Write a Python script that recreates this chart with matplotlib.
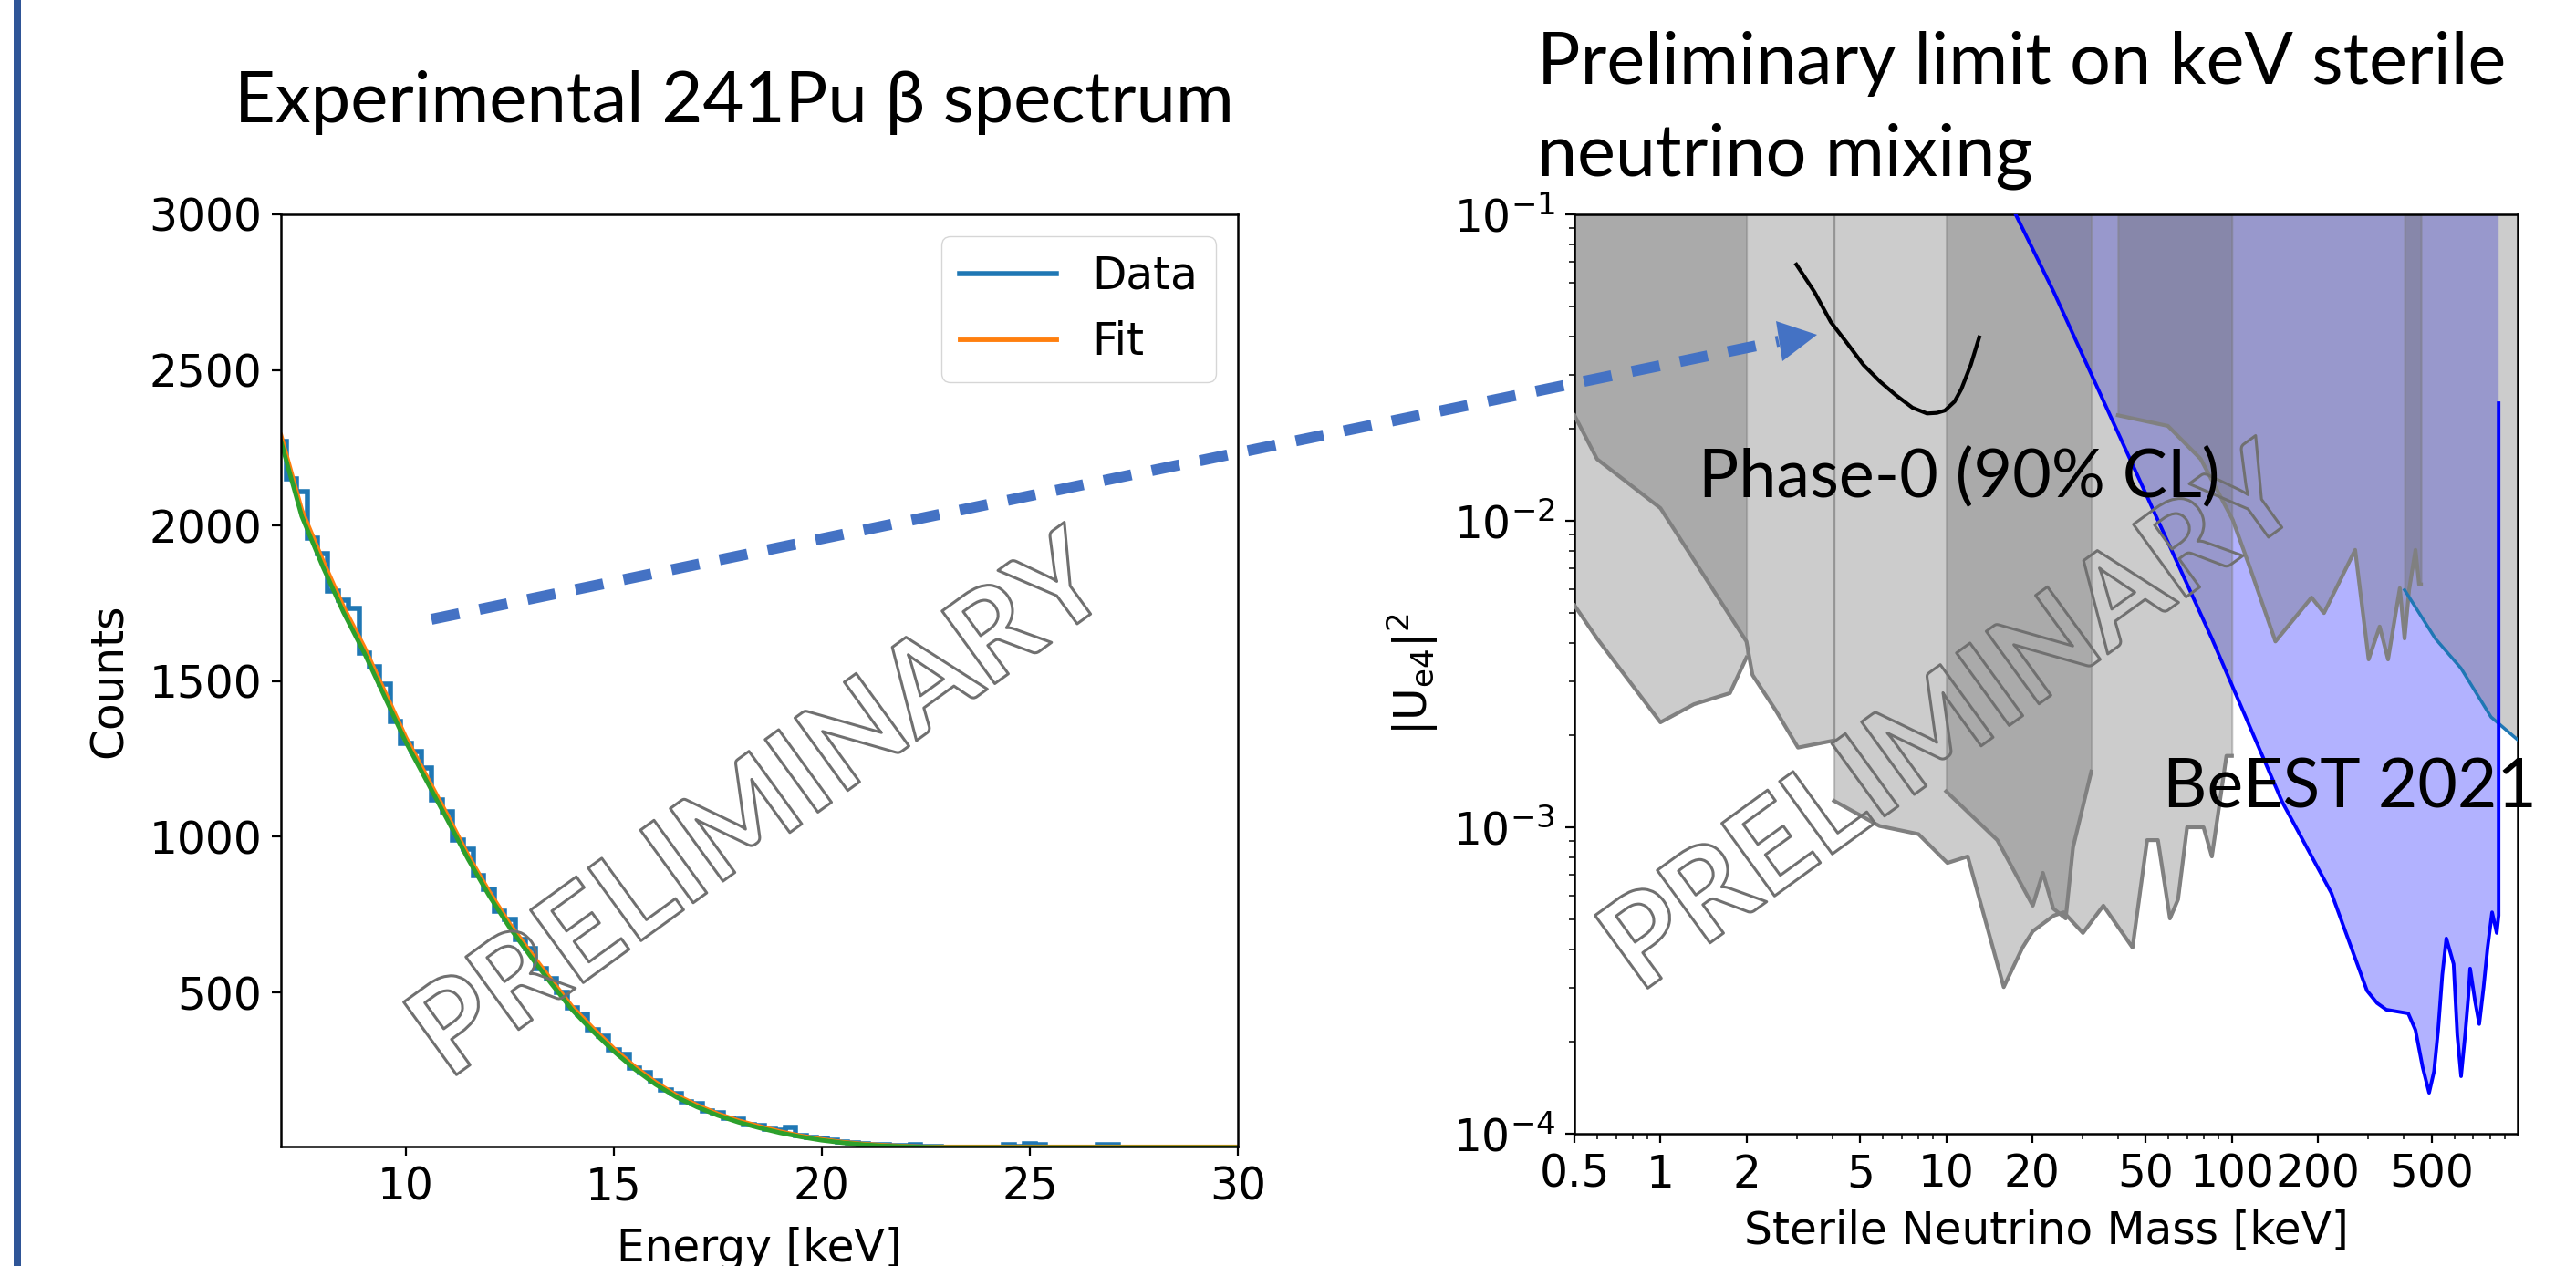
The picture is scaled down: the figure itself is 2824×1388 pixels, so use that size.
"""
Slide figure: measured 241Pu beta spectrum (left) and the preliminary
|U_e4|^2 limit on keV sterile neutrinos (right). Writes out.png.
"""

import numpy as np
import matplotlib
matplotlib.use("Agg")
import matplotlib.pyplot as plt
import matplotlib.patheffects as pe
from matplotlib.lines import Line2D
from matplotlib.patches import Polygon, Rectangle
from matplotlib.ticker import FixedLocator, FixedFormatter, LogLocator, NullFormatter

W, H = 2824, 1388

# ---- left panel: spectrum, 0.25 keV bins centred on 7.0, 7.25, ... keV ----
bin_centre0 = 7.0
bin_w = 0.25
data_counts = [
    2270, 2150, 2110, 1960, 1910, 1790, 1760, 1735, 1590, 1545, 1490, 1370,
    1300, 1275, 1220, 1120, 1080, 990, 960, 875, 830, 760, 735, 670,
    640, 575, 545, 500, 450, 430, 380, 360, 315, 300, 258, 242,
    215, 188, 176, 150, 142, 120, 114, 96, 92, 76, 72, 60,
    58, 68, 40, 34, 30, 26, 20, 18, 14, 12, 10, 9,
    7, 12, 5, 4, 3, 2, 3, 2, 2, 3, 12, 4,
    14, 10, 3, 2, 2, 3, 2, 10, 12, 3, 2, 2,
    2, 3, 2, 2, 2, 3, 2, 2,
]
fit_energy = [7.0 + 0.5 * i for i in range(47)]
fit_counts = [
    2290, 2050, 1890, 1740, 1610, 1465, 1320, 1195, 1070, 940,
    825, 720, 628, 540, 454, 385, 320, 262, 212, 170,
    138, 110, 88, 70, 53, 39, 28, 19, 13, 9,
    6, 4, 4, 4, 4, 4, 4, 4, 4, 4,
    4, 4, 4, 4, 4, 4, 4,
]
model_counts = [
    2270, 2030, 1870, 1722, 1592, 1448, 1305, 1180, 1055, 928,
    812, 708, 616, 528, 444, 375, 311, 254, 205, 164,
    132, 105, 83, 65, 49, 36, 25, 17, 11, 7,
    5, 3, 2, 2, 2, 2, 2, 2, 2, 2,
    2, 2, 2, 2, 2, 2, 2,
]

# ---- right panel: exclusion regions in (mass [keV], |U_e4|^2) ----
p1_mass = [0.5, 0.6, 1.0, 2.0, 2.1, 2.53, 3.03, 4.05]
p1_lower = [0.0221, 0.0159, 0.0110, 4.04e-3, 3.14e-3, 2.41e-3, 1.82e-3, 1.92e-3]

p2_mass = [0.5, 0.6, 1.0, 1.31, 1.75, 2.0]
p2_lower = [5.3e-3, 4.13e-3, 2.2e-3, 2.52e-3, 2.74e-3, 3.58e-3]

p3_mass = [4.05, 5.84, 8.0, 10.1, 11.9, 15.9, 18.5, 20.1, 23.8, 25.8, 30.1,
           35.5, 44.9, 50.5, 55.1, 60.7, 64.8, 69.7, 79.6, 85.1, 95.7, 100]
p3_lower = [1.22e-3, 1.01e-3, 9.5e-4, 7.65e-4, 8.03e-4, 3.01e-4, 4.05e-4, 4.58e-4,
            5.15e-4, 5.28e-4, 4.52e-4, 5.55e-4, 4.05e-4, 9.08e-4, 9.08e-4, 5.04e-4,
            5.82e-4, 1.0e-3, 1.0e-3, 8.03e-4, 1.71e-3, 1.71e-3]

p4_mass = [10.0, 15.1, 20.1, 21.8, 23.7, 26.2, 27.8, 32.2]
p4_lower = [1.31e-3, 9.08e-4, 5.55e-4, 7.1e-4, 5.43e-4, 5.04e-4, 8.6e-4, 1.52e-3]

p5_mass = [39.9, 59.7, 77.8, 100.7, 115, 142, 190, 210, 270, 301, 329, 352,
           387, 402, 417, 439, 452, 459]
p5_lower = [0.0221, 0.0204, 0.0159, 0.01007, 7.14e-3, 4.04e-3, 5.62e-3, 5.0e-3,
            8.04e-3, 3.53e-3, 4.52e-3, 3.53e-3, 6.03e-3, 4.13e-3, 5.95e-3,
            8.04e-3, 6.2e-3, 6.2e-3]

p6_mass = [402, 515, 634, 807, 1000]
p6_lower = [5.95e-3, 4.13e-3, 3.3e-3, 2.29e-3, 1.93e-3]

beest_mass = [17.5, 23.8, 85.1, 150, 223, 297, 322, 347, 414, 439, 465, 490, 510,
              527, 545, 563, 597, 615, 634, 655, 672, 682, 710, 734, 760, 785, 814,
              845, 858, 858]
beest_limit = [0.1, 0.0558, 4.13e-3, 1.21e-3, 6.1e-4, 2.93e-4, 2.67e-4, 2.54e-4,
               2.47e-4, 2.18e-4, 1.65e-4, 1.36e-4, 1.6e-4, 2.18e-4, 3.3e-4, 4.34e-4,
               3.58e-4, 2.1e-4, 1.54e-4, 2.1e-4, 2.79e-4, 3.46e-4, 2.7e-4, 2.28e-4,
               3.0e-4, 4.05e-4, 5.28e-4, 4.52e-4, 5.15e-4, 0.0242]

phase0_mass = [2.99, 3.46, 3.95, 4.51, 5.13, 5.86, 6.67, 7.62, 8.57, 9.28, 9.90,
               10.7, 11.3, 12.2, 13.05]
phase0_limit = [0.0686, 0.0558, 0.0445, 0.0379, 0.0323, 0.0285, 0.0257, 0.0234,
                0.0224, 0.0225, 0.0229, 0.0245, 0.0269, 0.0323, 0.0397]

mass_ticks = [0.5, 1, 2, 5, 10, 20, 50, 100, 200, 500]
mass_labels = ["0.5", "1", "2", "5", "10", "20", "50", "100", "200", "500"]

SLIDE_FONT = ["Lato", "DejaVu Sans"]
TICK_FS = 35


def fx(px):
    return px / W


def fy(py):
    return 1 - py / H


def style_axes(ax):
    for s in ax.spines.values():
        s.set_linewidth(1.8)
    ax.tick_params(which="major", length=7, width=1.6, labelsize=TICK_FS, pad=8)
    ax.tick_params(which="minor", length=4, width=1.1)


plt.rcParams["font.family"] = "DejaVu Sans"
plt.rcParams["mathtext.fontset"] = "dejavusans"

fig = plt.figure(figsize=(W / 100, H / 100), dpi=100)

# ---------------- left panel ----------------
ax1 = fig.add_axes([fx(308), fy(1257), fx(1357) - fx(308), fy(235) - fy(1257)])
edges = bin_centre0 - bin_w / 2 + bin_w * np.arange(len(data_counts) + 1)
ax1.stairs(data_counts, edges, color="#1f77b4", linewidth=4, label="Data")
ax1.plot(fit_energy, fit_counts, color="#ff7f0e", linewidth=3.5, label="Fit")
ax1.plot(fit_energy, model_counts, color="#2ca02c", linewidth=3.5)
ax1.set_xlim(7, 30)
ax1.set_ylim(5, 3000)
ax1.set_yticks([500, 1000, 1500, 2000, 2500, 3000])
ax1.set_xticks([10, 15, 20, 25, 30])
ax1.set_xlabel("Energy [keV]", fontsize=TICK_FS, labelpad=14)
ax1.set_ylabel("Counts", fontsize=TICK_FS, labelpad=14)
style_axes(ax1)
ax1.legend(loc="upper right", fontsize=TICK_FS, handlelength=2.2, framealpha=0.8)

# ---------------- right panel ----------------
ax2 = fig.add_axes([fx(1726), fy(1243), fx(2760) - fx(1726), fy(235) - fy(1243)])
ax2.set_xscale("log")
ax2.set_yscale("log")
ax2.set_xlim(0.5, 1000)
ax2.set_ylim(1e-4, 1e-1)

ax2.fill(beest_mass + [858], beest_limit + [0.1], facecolor=(0, 0, 1, 0.3),
         edgecolor="none", zorder=1)

gray_face = (0.4, 0.4, 0.4, 0.33)
gray_edge = (0.5, 0.5, 0.5, 0.45)
for m, low in [(p1_mass, p1_lower), (p2_mass, p2_lower), (p3_mass, p3_lower),
               (p4_mass, p4_lower), (p5_mass, p5_lower), (p6_mass, p6_lower)]:
    ax2.fill_between(m, low, 0.1, facecolor=gray_face, edgecolor=gray_edge,
                     linewidth=1.5, zorder=2)
for m, low in [(p1_mass, p1_lower), (p2_mass, p2_lower), (p3_mass, p3_lower),
               (p4_mass, p4_lower), (p5_mass, p5_lower)]:
    ax2.plot(m, low, color="#808080", linewidth=3, zorder=3)
ax2.plot(p6_mass, p6_lower, color="#1f77b4", linewidth=2.5, zorder=3.5)

ax2.plot(beest_mass, beest_limit, color="#0000ff", linewidth=2.8, zorder=4)
ax2.plot(phase0_mass, phase0_limit, color="black", linewidth=3, zorder=5)

ax2.xaxis.set_major_locator(FixedLocator(mass_ticks))
ax2.xaxis.set_major_formatter(FixedFormatter(mass_labels))
ax2.xaxis.set_minor_locator(LogLocator(base=10, subs=np.arange(2, 10)))
ax2.xaxis.set_minor_formatter(NullFormatter())
ax2.set_xlabel("Sterile Neutrino Mass [keV]", fontsize=TICK_FS, labelpad=10)
ax2.set_ylabel(r"$|\mathrm{U}_{\mathrm{e4}}|^2$", fontsize=TICK_FS, labelpad=10)
style_axes(ax2)

# ---------------- slide decorations ----------------
fig.add_artist(Rectangle((fx(15), 0), fx(23) - fx(15), 1, transform=fig.transFigure,
                         facecolor="#2F5597", edgecolor="none"))

fig.text(fx(257), fy(134), "Experimental 241Pu \u03b2 spectrum", family=SLIDE_FONT,
         fontsize=56, va="baseline", ha="left")
fig.text(fx(1685), fy(92), "Preliminary limit on keV sterile", family=SLIDE_FONT,
         fontsize=57, va="baseline", ha="left")
fig.text(fx(1685), fy(192), "neutrino mixing", family=SLIDE_FONT,
         fontsize=57, va="baseline", ha="left")
fig.text(fx(1862), fy(545), "Phase-0 (90% CL)", family=SLIDE_FONT,
         fontsize=53, va="baseline", ha="left", zorder=10)
fig.text(fx(2371), fy(886), "BeEST 2021", family=SLIDE_FONT,
         fontsize=54, va="baseline", ha="left", zorder=10)

# dashed arrow from the spectrum to the Phase-0 curve
fig.add_artist(Line2D([fx(473), fx(1950)], [fy(679), fy(374)], transform=fig.transFigure,
                      color="#4472C4", linewidth=8.6, dashes=(2.6, 1.9),
                      solid_capstyle="butt", dash_capstyle="butt", zorder=6))
fig.add_artist(Polygon([(fx(1947), fy(352)), (fx(1954), fy(396)), (fx(1992), fy(367))],
                       closed=True, transform=fig.transFigure, facecolor="#4472C4",
                       edgecolor="none", zorder=6))

# hollow PRELIMINARY watermarks
for cx, cy in [(835, 887), (2141, 792)]:
    fig.text(fx(cx), fy(cy), "PRELIMINARY", family=SLIDE_FONT, fontsize=98,
             fontweight="bold", rotation=36, ha="center", va="center",
             rotation_mode="anchor", color="none", zorder=7,
             path_effects=[pe.Stroke(linewidth=2.2, foreground="#707070")])

fig.savefig("out.png", dpi=100, facecolor="white")
